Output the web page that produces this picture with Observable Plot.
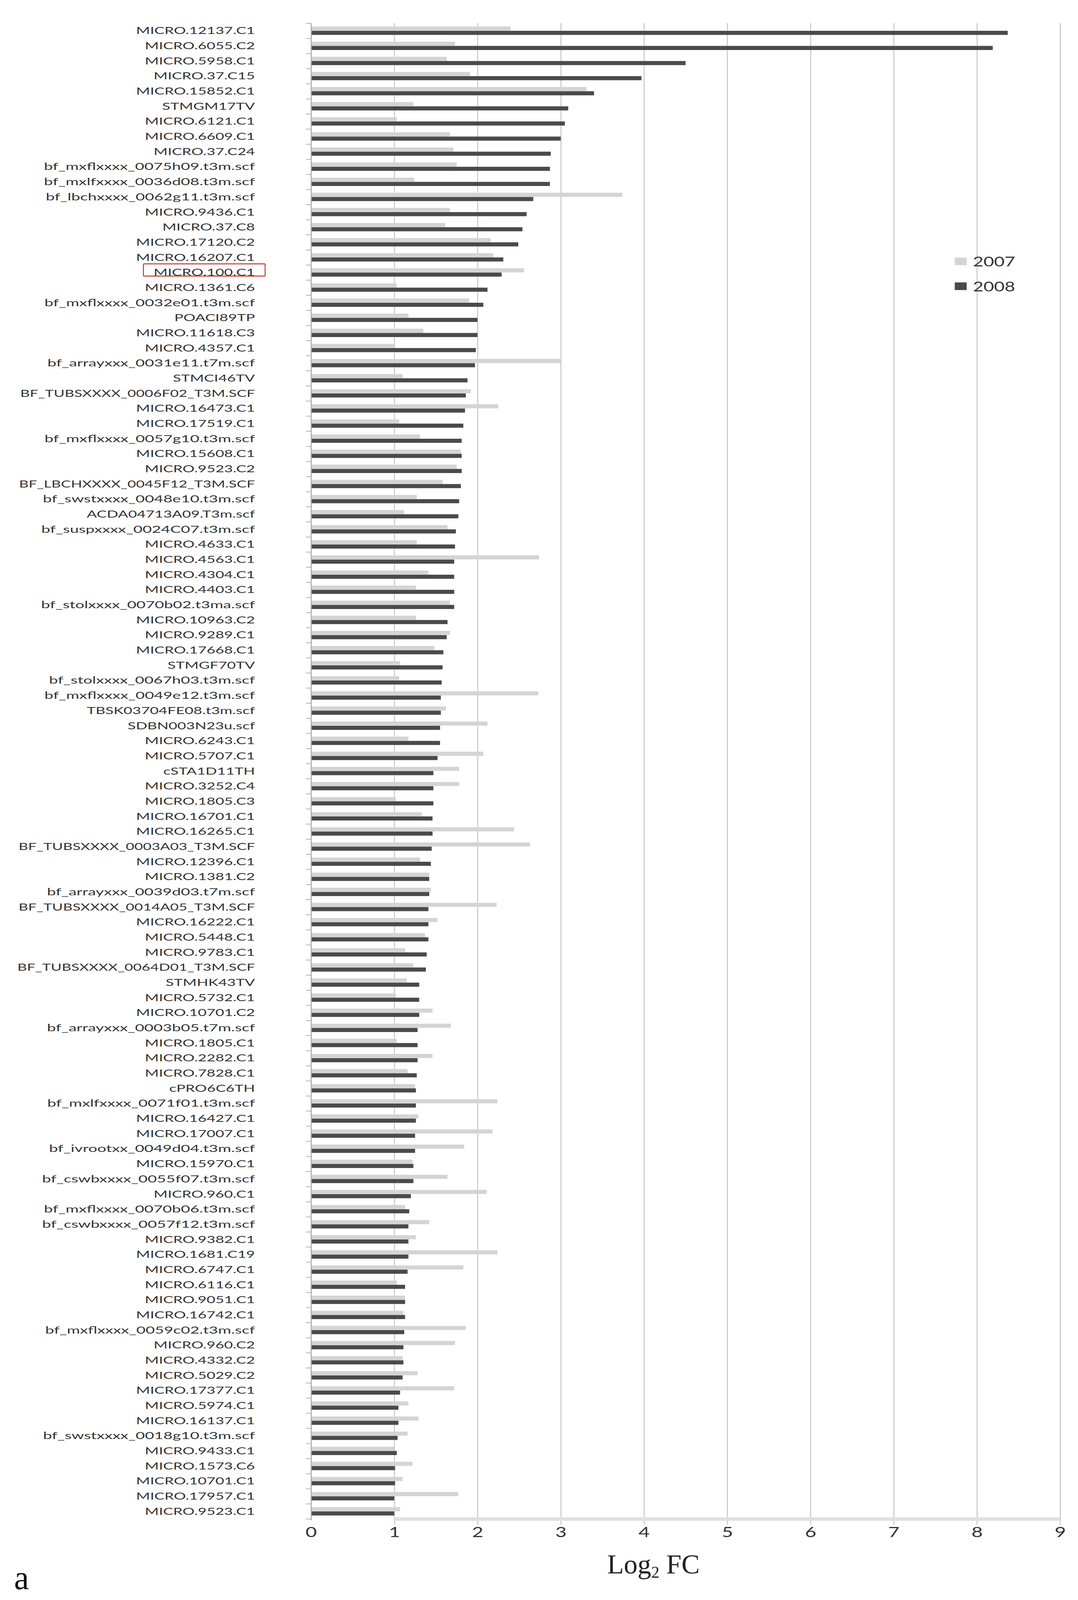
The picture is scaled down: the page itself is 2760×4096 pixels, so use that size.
<!DOCTYPE html>
<html><head><meta charset="utf-8">
<script src="https://cdn.jsdelivr.net/npm/d3@7"></script>
<script src="https://cdn.jsdelivr.net/npm/@observablehq/plot@0.6"></script>
<style>
html,body{margin:0;padding:0;background:#fff;}
#chart svg{display:block;}
</style></head><body><div id="chart"></div>
<script>
const names = [
"MICRO.12137.C1","MICRO.6055.C2","MICRO.5958.C1","MICRO.37.C15","MICRO.15852.C1","STMGM17TV","MICRO.6121.C1","MICRO.6609.C1","MICRO.37.C24",
"bf_mxflxxxx_0075h09.t3m.scf","bf_mxlfxxxx_0036d08.t3m.scf","bf_lbchxxxx_0062g11.t3m.scf","MICRO.9436.C1","MICRO.37.C8","MICRO.17120.C2",
"MICRO.16207.C1","MICRO.100.C1","MICRO.1361.C6","bf_mxflxxxx_0032e01.t3m.scf","POACI89TP","MICRO.11618.C3","MICRO.4357.C1",
"bf_arrayxxx_0031e11.t7m.scf","STMCI46TV","BF_TUBSXXXX_0006F02_T3M.SCF","MICRO.16473.C1","MICRO.17519.C1","bf_mxflxxxx_0057g10.t3m.scf",
"MICRO.15608.C1","MICRO.9523.C2","BF_LBCHXXXX_0045F12_T3M.SCF","bf_swstxxxx_0048e10.t3m.scf","ACDA04713A09.T3m.scf","bf_suspxxxx_0024C07.t3m.scf",
"MICRO.4633.C1","MICRO.4563.C1","MICRO.4304.C1","MICRO.4403.C1","bf_stolxxxx_0070b02.t3ma.scf","MICRO.10963.C2","MICRO.9289.C1","MICRO.17668.C1",
"STMGF70TV","bf_stolxxxx_0067h03.t3m.scf","bf_mxflxxxx_0049e12.t3m.scf","TBSK03704FE08.t3m.scf","SDBN003N23u.scf","MICRO.6243.C1","MICRO.5707.C1",
"cSTA1D11TH","MICRO.3252.C4","MICRO.1805.C3","MICRO.16701.C1","MICRO.16265.C1","BF_TUBSXXXX_0003A03_T3M.SCF","MICRO.12396.C1","MICRO.1381.C2",
"bf_arrayxxx_0039d03.t7m.scf","BF_TUBSXXXX_0014A05_T3M.SCF","MICRO.16222.C1","MICRO.5448.C1","MICRO.9783.C1","BF_TUBSXXXX_0064D01_T3M.SCF",
"STMHK43TV","MICRO.5732.C1","MICRO.10701.C2","bf_arrayxxx_0003b05.t7m.scf","MICRO.1805.C1","MICRO.2282.C1","MICRO.7828.C1","cPRO6C6TH",
"bf_mxlfxxxx_0071f01.t3m.scf","MICRO.16427.C1","MICRO.17007.C1","bf_ivrootxx_0049d04.t3m.scf","MICRO.15970.C1","bf_cswbxxxx_0055f07.t3m.scf",
"MICRO.960.C1","bf_mxflxxxx_0070b06.t3m.scf","bf_cswbxxxx_0057f12.t3m.scf","MICRO.9382.C1","MICRO.1681.C19","MICRO.6747.C1","MICRO.6116.C1",
"MICRO.9051.C1","MICRO.16742.C1","bf_mxflxxxx_0059c02.t3m.scf","MICRO.960.C2","MICRO.4332.C2","MICRO.5029.C2","MICRO.17377.C1","MICRO.5974.C1",
"MICRO.16137.C1","bf_swstxxxx_0018g10.t3m.scf","MICRO.9433.C1","MICRO.1573.C6","MICRO.10701.C1","MICRO.17957.C1","MICRO.9523.C1"
];
const v2007 = [
2.40,1.73,1.63,1.91,3.31,1.23,1.03,1.67,1.71,
1.75,1.24,3.74,1.67,1.61,2.16,
2.19,2.56,1.03,1.90,1.17,1.35,1.01,
3.00,1.10,1.92,2.25,1.06,1.31,
1.80,1.75,1.58,1.27,1.12,1.64,
1.27,2.74,1.41,1.26,1.67,1.26,1.67,1.48,
1.07,1.06,2.73,1.62,2.12,1.17,2.07,
1.78,1.78,1.02,1.33,2.44,2.63,1.31,1.42,
1.44,2.23,1.52,1.37,1.13,1.23,
1.15,1.02,1.46,1.68,1.03,1.46,1.16,1.25,
2.24,1.29,2.18,1.84,1.22,1.64,
2.11,1.13,1.42,1.26,2.24,1.83,1.03,
1.13,1.11,1.86,1.73,1.10,1.28,1.72,1.17,
1.29,1.16,1.00,1.22,1.10,1.77,1.07
];
const v2008 = [
8.37,8.19,4.50,3.97,3.40,3.09,3.05,3.00,2.88,
2.87,2.87,2.67,2.59,2.54,2.49,
2.31,2.29,2.12,2.07,2.00,2.00,1.98,
1.97,1.88,1.86,1.85,1.83,1.81,
1.81,1.81,1.80,1.78,1.77,1.74,
1.73,1.72,1.72,1.72,1.72,1.64,1.63,1.59,
1.58,1.57,1.56,1.56,1.55,1.55,1.52,
1.47,1.47,1.47,1.46,1.46,1.45,1.44,1.42,
1.42,1.41,1.41,1.41,1.39,1.38,
1.30,1.30,1.30,1.28,1.28,1.28,1.27,1.26,
1.26,1.26,1.25,1.25,1.23,1.23,
1.20,1.18,1.17,1.17,1.17,1.16,1.13,
1.13,1.13,1.12,1.11,1.11,1.10,1.07,1.05,
1.05,1.04,1.03,1.01,1.01,1.00,1.00
];
const xTicks = [0,1,2,3,4,5,6,7,8,9];
const gridTicks = [1,2,3,4,5,6,7,8,9];
const years = ["2007","2008"];
const colors = ["#d4d4d4","#4a4a4a"];
const highlighted = "MICRO.100.C1";
const axisTitle = ["Log","2"," FC"];
const panelLabel = "a";

const W = 2760, H = 4096;
const mL = 796.3, mR = 45.7, mT = 59.3, mB = 207.7;
const B = (H - mT - mB) / names.length;
const half = B / 2;
const barH = 10.5, gap = 0.2;

const d07 = names.map((n, i) => ({name: n, year: years[0], v: v2007[i]}));
const d08 = names.map((n, i) => ({name: n, year: years[1], v: v2008[i]}));
const last = names[names.length - 1];

const plot = Plot.plot({
  width: W, height: H,
  marginLeft: mL, marginRight: mR, marginTop: mT, marginBottom: mB,
  style: {background: "#fff", fontFamily: "Lato"},
  x: {domain: [xTicks[0], xTicks[xTicks.length - 1]], axis: null},
  y: {domain: names, axis: null, padding: 0, round: false},
  marks: [
    Plot.ruleX(gridTicks, {x: d => d, stroke: "#c6c6c6", strokeWidth: 2.5, insetBottom: -15}),
    Plot.ruleY([last], {y: d => d, dy: half, x1: gridTicks[0], x2: gridTicks[gridTicks.length - 1], stroke: "#e0e0e0", strokeWidth: 9}),
    Plot.barX(d07, {x: "v", y: "name", fill: colors[0], insetTop: half - barH - gap, insetBottom: half + gap}),
    Plot.barX(d08, {x: "v", y: "name", fill: colors[1], insetTop: half + gap, insetBottom: half - barH - gap}),
    Plot.ruleX([xTicks[0]], {x: d => d, stroke: "#a8a8a8", strokeWidth: 2.5, insetBottom: -4}),
    Plot.ruleY(names, {y: d => d, dy: -half, x1: xTicks[0], x2: xTicks[0], insetLeft: -13, stroke: "#b4b4b4", strokeWidth: 2}),
    Plot.ruleY([last], {y: d => d, dy: half, x1: xTicks[0], x2: xTicks[0], insetLeft: -13, stroke: "#b4b4b4", strokeWidth: 2}),
    Plot.text(names, {frameAnchor: "left", y: d => d, text: d => d, textAnchor: "end", dx: -144, fontSize: 25.8, fill: "#333"}),
    Plot.text(xTicks, {x: d => d, text: d => String(d), frameAnchor: "bottom", dy: 46, fontSize: 37, fill: "#333"})
  ]
});
document.getElementById("chart").append(plot);

const svg = d3.select(plot.tagName.toLowerCase() === "svg" ? plot : plot.querySelector("svg"));

function stretch(node, s) {
  const t = d3.select(node);
  const x = parseFloat(t.attr("x")) || 0, y = parseFloat(t.attr("y")) || 0;
  const tr = t.attr("transform") || "";
  t.attr("transform", `${tr} translate(${x},${y}) scale(${s},1) translate(${-x},${-y})`);
}
const nameSet = new Set(names);
const tickSet = new Set(xTicks.map(String));
svg.selectAll("text").each(function() {
  const c = this.textContent;
  if (nameSet.has(c)) {
    const s = /^BF_/.test(c) ? 1.47 : /^bf_/.test(c) ? 1.58 : 1.5;
    stretch(this, s);
  } else if (tickSet.has(c)) stretch(this, 1.35);
});

// red box around highlighted label
const yScale = plot.scale("y");
const svgRect = svg.node().getBoundingClientRect();
svg.selectAll("text").each(function() {
  if (this.textContent !== highlighted) return;
  const r = this.getBoundingClientRect();
  const c = yScale.apply(highlighted) + yScale.bandwidth / 2;
  svg.append("rect")
    .attr("x", r.left - svgRect.left - 26)
    .attr("y", c - 22)
    .attr("width", r.width + 52)
    .attr("height", 31.3)
    .attr("rx", 2)
    .attr("fill", "none")
    .attr("stroke", "#c0392b")
    .attr("stroke-width", 2.5);
});

// legend
const lg = svg.append("g");
const legY = [669.5, 733];
years.forEach((yr, i) => {
  lg.append("rect").attr("x", 2444.5).attr("y", legY[i] - 10).attr("width", 30.5).attr("height", 19.5)
    .attr("fill", colors[i]);
  const t = lg.append("text").attr("x", 2491).attr("y", legY[i]).attr("dy", "0.36em")
    .attr("text-anchor", "start")
    .attr("font-family", "Lato").attr("font-size", 35).attr("fill", "#333").text(yr);
  stretch(t.node(), 1.33);
});

// x axis title
const at = svg.append("text").attr("x", 1673).attr("y", 4028).attr("text-anchor", "middle")
  .attr("font-family", "Liberation Serif").attr("font-size", 70).attr("fill", "#222");
at.append("tspan").text(axisTitle[0]);
at.append("tspan").attr("font-size", 42).attr("dy", 11).text(axisTitle[1]);
at.append("tspan").attr("dy", -11).text(axisTitle[2]);

// panel label
svg.append("text").attr("x", 36).attr("y", 4068).attr("text-anchor", "start")
  .attr("font-family", "Liberation Serif").attr("font-size", 86).attr("fill", "#111").text(panelLabel);
</script>
</body></html>
